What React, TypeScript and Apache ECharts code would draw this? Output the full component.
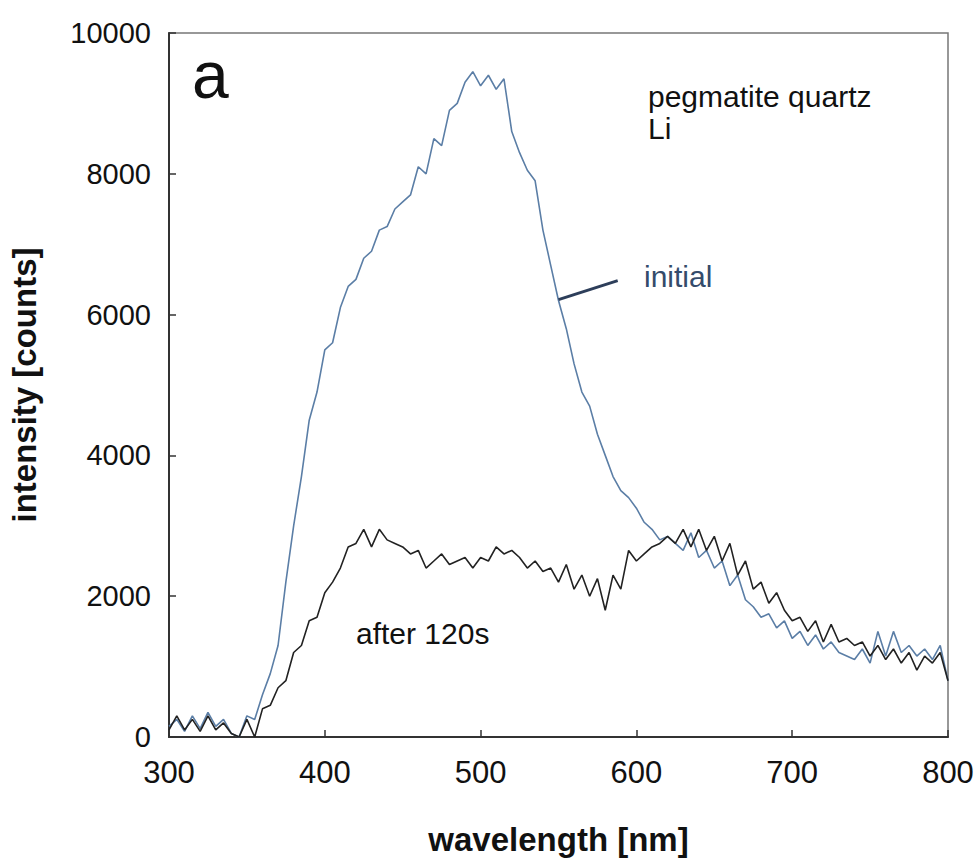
import React, { useEffect, useRef } from "react";
import * as echarts from "echarts";

const wavelengths: number[] = [
  300, 305, 310, 315, 320, 325, 330, 335, 340, 345,
  350, 355, 360, 365, 370, 375, 380, 385, 390, 395,
  400, 405, 410, 415, 420, 425, 430, 435, 440, 445,
  450, 455, 460, 465, 470, 475, 480, 485, 490, 495,
  500, 505, 510, 515, 520, 525, 530, 535, 540, 545,
  550, 555, 560, 565, 570, 575, 580, 585, 590, 595,
  600, 605, 610, 615, 620, 625, 630, 635, 640, 645,
  650, 655, 660, 665, 670, 675, 680, 685, 690, 695,
  700, 705, 710, 715, 720, 725, 730, 735, 740, 745,
  750, 755, 760, 765, 770, 775, 780, 785, 790, 795,
  800,
];

const initialCounts: number[] = [
  150, 250, 80, 300, 120, 350, 150, 250, 50, 0,
  300, 250, 600, 900, 1300, 2200, 3000, 3700, 4500, 4900,
  5500, 5600, 6100, 6400, 6500, 6800, 6900, 7200, 7250, 7500,
  7600, 7700, 8100, 8000, 8500, 8400, 8900, 9000, 9300, 9450,
  9250, 9400, 9200, 9350, 8600, 8300, 8050, 7900, 7200, 6700,
  6200, 5800, 5300, 4900, 4700, 4300, 4000, 3700, 3500, 3400,
  3250, 3050, 2950, 2800, 2850, 2750, 2650, 2900, 2550, 2650,
  2400, 2500, 2150, 2300, 1950, 1850, 1700, 1750, 1550, 1650,
  1400, 1500, 1300, 1450, 1250, 1350, 1200, 1150, 1100, 1250,
  1050, 1500, 1150, 1500, 1200, 1300, 1150, 1250, 1100, 1300,
  800,
];

const after120sCounts: number[] = [
  100, 300, 100, 250, 80, 300, 100, 200, 50, 0,
  250, 0, 400, 450, 700, 800, 1200, 1300, 1650, 1700,
  2050, 2200, 2400, 2700, 2750, 2950, 2700, 2950, 2800, 2750,
  2700, 2600, 2650, 2400, 2500, 2600, 2450, 2500, 2550, 2400,
  2550, 2500, 2700, 2600, 2650, 2550, 2400, 2500, 2350, 2400,
  2200, 2450, 2100, 2300, 2000, 2250, 1800, 2300, 2100, 2650,
  2500, 2600, 2700, 2750, 2850, 2750, 2950, 2700, 2950, 2650,
  2850, 2500, 2750, 2300, 2500, 2100, 2200, 1900, 2050, 1800,
  1650, 1700, 1500, 1650, 1350, 1600, 1350, 1400, 1300, 1350,
  1150, 1300, 1100, 1250, 1050, 1200, 950, 1150, 1050, 1200,
  800,
];

// leader line from the "initial" label to its curve
const leaderX: number[] = [550, 588];
const leaderY: number[] = [6213, 6482];

const xTicks = { min: 300, max: 800, interval: 100 };
const yTicks = { min: 0, max: 10000, interval: 2000 };

export default function App() {
  const ref = useRef<HTMLDivElement>(null);

  useEffect(() => {
    if (!ref.current) return;
    const chart = echarts.init(ref.current, null, { renderer: "svg" });
    const pair = (xs: number[], ys: number[]) => xs.map((x, i) => [x, ys[i]]);
    chart.setOption({
      animation: false,
      backgroundColor: "#ffffff",
      grid: {
        left: 168,
        right: 30,
        top: 33,
        bottom: 123,
        show: true,
        borderColor: "#777777",
        borderWidth: 1.5,
        backgroundColor: "transparent",
      },
      xAxis: {
        type: "value",
        min: xTicks.min,
        max: xTicks.max,
        interval: xTicks.interval,
        splitLine: { show: false },
        axisLine: { show: true, lineStyle: { color: "#333333", width: 2 } },
        axisTick: { show: true, inside: true, length: 7, lineStyle: { color: "#333333", width: 1.5 } },
        axisLabel: {
          fontFamily: "Liberation Sans, Arial, sans-serif",
          fontSize: 31,
          color: "#111111",
          margin: 20,
          formatter: (v: number) => String(v),
        },
        name: "wavelength [nm]",
        nameLocation: "middle",
        nameGap: 86,
        nameTextStyle: {
          fontFamily: "Liberation Sans, Arial, sans-serif",
          fontWeight: "bold",
          fontSize: 33,
          color: "#111111",
        },
      },
      yAxis: {
        type: "value",
        min: yTicks.min,
        max: yTicks.max,
        interval: yTicks.interval,
        splitLine: { show: false },
        axisLine: { show: true, lineStyle: { color: "#333333", width: 2 } },
        axisTick: { show: true, inside: true, length: 7, lineStyle: { color: "#333333", width: 1.5 } },
        axisLabel: {
          fontFamily: "Liberation Sans, Arial, sans-serif",
          fontSize: 29,
          color: "#111111",
          margin: 18,
          formatter: (v: number) => String(v),
        },
        name: "intensity [counts]",
        nameLocation: "middle",
        nameGap: 128,
        nameRotate: 90,
        nameTextStyle: {
          fontFamily: "Liberation Sans, Arial, sans-serif",
          fontWeight: "bold",
          fontSize: 33,
          color: "#111111",
        },
      },
      series: [
        {
          name: "initial",
          type: "line",
          data: pair(wavelengths, initialCounts),
          showSymbol: false,
          lineStyle: { color: "#5b7ea6", width: 1.6 },
          z: 2,
        },
        {
          name: "after 120s",
          type: "line",
          data: pair(wavelengths, after120sCounts),
          showSymbol: false,
          lineStyle: { color: "#222222", width: 1.6 },
          z: 3,
        },
        {
          name: "leader",
          type: "line",
          data: pair(leaderX, leaderY),
          showSymbol: false,
          lineStyle: { color: "#2d3e5a", width: 3 },
          z: 4,
        },
      ],
      graphic: [
        {
          type: "text",
          left: 192,
          top: 42,
          style: {
            text: "a",
            fontFamily: "Liberation Sans, Arial, sans-serif",
            fontSize: 66,
            fill: "#111111",
          },
        },
        {
          type: "text",
          left: 648,
          top: 80,
          style: {
            text: "pegmatite quartz\nLi",
            fontFamily: "Liberation Sans, Arial, sans-serif",
            fontSize: 30,
            lineHeight: 32,
            fill: "#111111",
          },
        },
        {
          type: "text",
          left: 644,
          top: 261,
          style: {
            text: "initial",
            fontFamily: "Liberation Sans, Arial, sans-serif",
            fontSize: 30,
            fill: "#344b6b",
          },
        },
        {
          type: "text",
          left: 356,
          top: 618,
          style: {
            text: "after 120s",
            fontFamily: "Liberation Sans, Arial, sans-serif",
            fontSize: 30,
            fill: "#111111",
          },
        },
      ],
    });
    return () => chart.dispose();
  }, []);

  return (
    <div
      ref={ref}
      style={{ position: "absolute", left: 0, top: 0, width: 978, height: 861 }}
    />
  );
}
